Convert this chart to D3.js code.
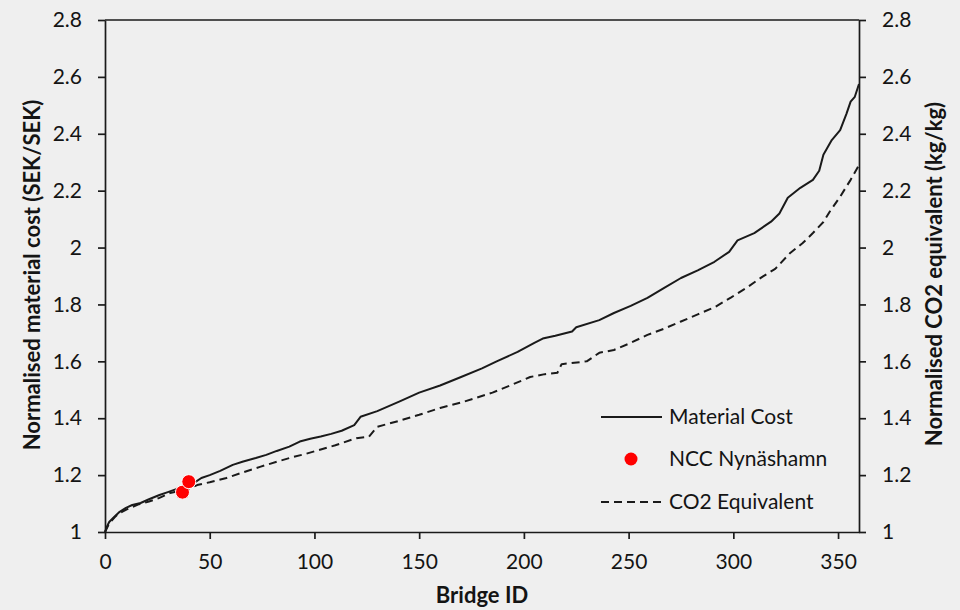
<!DOCTYPE html>
<html>
<head>
<meta charset="utf-8">
<script src="https://cdn.jsdelivr.net/npm/d3@7"></script>
<style>
  body { margin: 0; background: #efefef; }
  #chart text { font-family: Lato, "Open Sans", sans-serif; fill: #141414; }
  .axis path, .axis line { stroke: #1a1a1a; stroke-width: 1.7; }
  .axis text { font-size: 21px; }
  .label { font-size: 22px; font-weight: bold; }
  .legend text { font-size: 21px; }
</style>
</head>
<body>
<div id="chart"></div>
<script>
// chart values
const bridgeIdCost = [0, 1, 2, 4, 7, 10, 13, 17, 21, 26, 30, 33, 38, 42, 46, 50, 55, 61, 66, 72, 77, 82, 88, 93, 98, 103, 108, 113, 119, 122, 130, 141, 150, 160, 170, 180, 187, 197, 205, 209, 215, 223, 225, 236, 243, 251, 259, 267, 275, 283, 291, 298, 302, 310, 318, 322, 326, 332, 338, 341, 343, 347, 351, 354, 356, 358, 360];
const materialCost = [1.00, 1.02, 1.035, 1.05, 1.071, 1.085, 1.095, 1.102, 1.115, 1.13, 1.14, 1.148, 1.16, 1.17, 1.19, 1.20, 1.215, 1.236, 1.248, 1.26, 1.271, 1.285, 1.30, 1.318, 1.328, 1.336, 1.345, 1.356, 1.376, 1.405, 1.425, 1.46, 1.49, 1.515, 1.545, 1.575, 1.60, 1.633, 1.665, 1.68, 1.69, 1.705, 1.72, 1.745, 1.77, 1.795, 1.823, 1.858, 1.893, 1.92, 1.95, 1.985, 2.025, 2.051, 2.091, 2.12, 2.175, 2.21, 2.238, 2.27, 2.326, 2.378, 2.413, 2.47, 2.513, 2.53, 2.575];

const bridgeIdCo2 = [0, 2, 5, 7, 12, 16, 21, 26, 31, 36, 40, 44, 50, 58, 66, 74, 82, 90, 96, 101, 110, 120, 126, 130, 140, 150, 160, 170, 185, 195, 203, 210, 216, 218, 230, 236, 243, 251, 259, 267, 275, 283, 291, 299, 307, 314, 320, 327, 333, 338, 343, 346, 351, 356, 360];
const co2Equivalent = [1.00, 1.03, 1.055, 1.067, 1.085, 1.097, 1.107, 1.12, 1.137, 1.145, 1.152, 1.165, 1.175, 1.19, 1.21, 1.229, 1.247, 1.264, 1.275, 1.286, 1.305, 1.33, 1.335, 1.37, 1.39, 1.412, 1.436, 1.455, 1.49, 1.52, 1.545, 1.555, 1.56, 1.59, 1.60, 1.63, 1.64, 1.665, 1.693, 1.715, 1.74, 1.765, 1.79, 1.825, 1.862, 1.898, 1.925, 1.98, 2.015, 2.051, 2.09, 2.126, 2.179, 2.238, 2.29];

const nccIds = [37, 40];
const nccValues = [1.14, 1.177];

const xTicks = [0, 50, 100, 150, 200, 250, 300, 350];
const yTicks = [1, 1.2, 1.4, 1.6, 1.8, 2, 2.2, 2.4, 2.6, 2.8];

const legendLabels = ["Material Cost", "NCC Nynäshamn", "CO2 Equivalent"];

const LINE_COLOR = "#1a1a1a";
const DOT_COLOR = "#ff0000";

let margin = null, width = null, height = null;
let svg = null;
let x = null, y = null;

renderChart();

function renderChart() {
  setupCanvasSize();
  appendSvg("#chart");
  setupScales();
  appendAxes();
  appendLabels();
  appendLine(bridgeIdCost, materialCost, null);
  appendLine(bridgeIdCo2, co2Equivalent, "8,5");
  appendDots();
  appendLegend();
}

/**
 * @method setupCanvasSize
 * @description plot box sits at 105..859 x 20..532
 */
function setupCanvasSize() {
  margin = {top: 20, left: 105, bottom: 78, right: 101};
  width = 960 - margin.left - margin.right;
  height = 610 - margin.top - margin.bottom;
}

function appendSvg(domElement) {
  svg = d3.select(domElement)
    .append("svg")
    .attr("width", 960)
    .attr("height", 610)
    .append("g")
    .attr("transform", `translate(${margin.left},${margin.top})`);
}

function setupScales() {
  x = d3.scaleLinear().domain([0, 360]).range([0, width]);
  y = d3.scaleLinear().domain([1, 2.8]).range([height, 0]);
}

/**
 * @method appendAxes
 * @description bottom, left and right axes plus the top border of the box
 */
function appendAxes() {
  svg.append("g")
    .attr("class", "x axis")
    .attr("transform", `translate(0,${height})`)
    .call(d3.axisBottom(x).tickValues(xTicks).tickSize(7).tickSizeOuter(0).tickPadding(15));

  svg.append("g")
    .attr("class", "y axis")
    .call(d3.axisLeft(y).tickValues(yTicks).tickFormat(d3.format("~g")).tickSize(7).tickSizeOuter(0).tickPadding(16));

  svg.append("g")
    .attr("class", "y axis")
    .attr("transform", `translate(${width},0)`)
    .call(d3.axisRight(y).tickValues(yTicks).tickFormat(d3.format("~g")).tickSize(7).tickSizeOuter(0).tickPadding(16));

  svg.append("line")
    .attr("x1", 0)
    .attr("x2", width)
    .attr("y1", 0)
    .attr("y2", 0)
    .attr("stroke", LINE_COLOR)
    .attr("stroke-width", 1.7);
}

function appendLabels() {
  svg.append("text")
    .attr("class", "label")
    .attr("text-anchor", "middle")
    .attr("x", 482 - margin.left)
    .attr("y", 603 - margin.top)
    .text("Bridge ID");

  svg.append("text")
    .attr("class", "label")
    .attr("text-anchor", "middle")
    .attr("dy", "0.35em")
    .attr("transform", `translate(${32 - margin.left},${275 - margin.top}) rotate(-90)`)
    .text("Normalised material cost (SEK/SEK)");

  svg.append("text")
    .attr("class", "label")
    .attr("text-anchor", "middle")
    .attr("dy", "0.35em")
    .attr("transform", `translate(${934 - margin.left},${274 - margin.top}) rotate(-90)`)
    .text("Normalised CO2 equivalent (kg/kg)");
}

/**
 * @method appendLine
 * @description draws one curve, dashed when a dasharray is given
 */
function appendLine(ids, values, dash) {
  let line = d3.line()
    .x(function(d, i) { return x(ids[i]); })
    .y(function(d) { return y(d); });

  svg.append("path")
    .datum(values)
    .attr("fill", "none")
    .attr("stroke", LINE_COLOR)
    .attr("stroke-width", 2)
    .attr("stroke-linejoin", "round")
    .attr("stroke-dasharray", dash)
    .attr("d", line);
}

function appendDots() {
  svg.selectAll(".ncc")
    .data(nccValues)
    .enter().append("circle")
    .attr("class", "ncc")
    .attr("cx", function(d, i) { return x(nccIds[i]); })
    .attr("cy", function(d) { return y(d); })
    .attr("r", 7)
    .attr("fill", DOT_COLOR)
    .attr("stroke", "#ffffff")
    .attr("stroke-width", 1);
}

function appendLegend() {
  let legend = svg.append("g")
    .attr("class", "legend")
    .attr("transform", `translate(${-margin.left},${-margin.top})`);

  let rowsY = [417, 459, 502];

  legend.append("line")
    .attr("x1", 601).attr("x2", 662)
    .attr("y1", rowsY[0]).attr("y2", rowsY[0])
    .attr("stroke", LINE_COLOR)
    .attr("stroke-width", 2);

  legend.append("circle")
    .attr("cx", 631)
    .attr("cy", rowsY[1])
    .attr("r", 6.5)
    .attr("fill", DOT_COLOR);

  legend.append("line")
    .attr("x1", 601).attr("x2", 662)
    .attr("y1", rowsY[2]).attr("y2", rowsY[2])
    .attr("stroke", LINE_COLOR)
    .attr("stroke-width", 2)
    .attr("stroke-dasharray", "8,5");

  legend.selectAll(".item")
    .data(legendLabels)
    .enter().append("text")
    .attr("class", "item")
    .attr("x", 669)
    .attr("y", function(d, i) { return rowsY[i]; })
    .attr("dy", "0.35em")
    .text(function(d) { return d; });
}
</script>
</body>
</html>
